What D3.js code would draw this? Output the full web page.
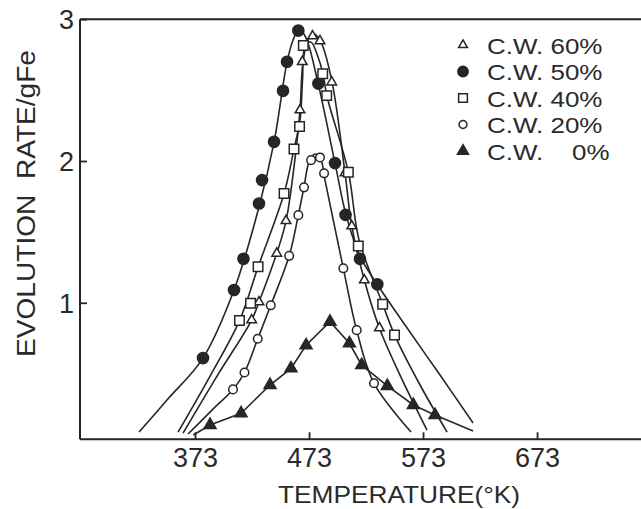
<!DOCTYPE html>
<html><head><meta charset="utf-8">
<script src="https://cdn.jsdelivr.net/npm/d3@7"></script>
<style>
html,body{margin:0;padding:0;background:#fff;}
svg{display:block;}
text{font-family:"Liberation Sans",Arial,sans-serif;fill:#2a2a2a;}
</style></head><body>
<svg id="chart" width="641" height="509"></svg>
<script>
// ---- axis ticks / labels ----
const xTicks = [373, 473, 573, 673];
const yTicks = [1, 2, 3];
const xDomain = [272.1, 764.2];
const yDomain = [0.037, 3];
const xTitle = "TEMPERATURE(°K)";
const yTitle = "EVOLUTION  RATE/gFe";
const legendLabels = ["C.W. 60%", "C.W. 50%", "C.W. 40%", "C.W. 20%", "C.W.    0%"];

// ---- measured points [T (K), rate] ----
const pts60 = [[422.7,0.878],[429.1,1.005],[444.7,1.348],[452.8,1.578],[465.1,2.359],[467.1,2.70],[476.1,2.881],[482.6,2.846],[492.9,2.556],[504.6,1.915],[510.5,1.541],[521.5,1.16],[534.7,0.822]];
const pts50 = [[380.0,0.61],[407.2,1.09],[415.5,1.31],[429.1,1.70],[431.8,1.865],[442.3,2.135],[450.2,2.495],[453.7,2.70],[463.6,2.92],[481.2,2.546],[495.8,1.985],[505.0,1.62],[517.7,1.31],[532.9,1.13]];
const pts40 = [[412.0,0.875],[421.7,0.996],[428.3,1.254],[451.1,1.77],[459.8,2.084],[464.7,2.243],[468.0,2.814],[485.0,2.616],[488.5,2.461],[507.5,1.92],[516.2,1.40],[537.6,0.989],[548.0,0.772]];
const pts20 = [[406.3,0.389],[416.4,0.508],[428.0,0.746],[439.4,0.982],[455.6,1.331],[463.6,1.618],[468.6,1.814],[474.8,2.006],[482.6,2.025],[486.2,1.913],[503.1,1.243],[514.8,0.807],[530.0,0.432]];
const pts0  = [[386.2,0.138],[413.4,0.22],[438.8,0.42],[457.2,0.537],[470.4,0.70],[491.4,0.866],[508.4,0.714],[519.2,0.56],[541.7,0.413],[564.5,0.279],[583.5,0.208]];

// ---- hand-fitted curves [T (K), rate] ----
const curve60 = [[362.5,0.081],[392.3,0.483],[422.7,0.878],[429.1,1.005],[444.7,1.35],[452.8,1.576],[461.6,2.077],[465.1,2.359],[467.7,2.697],[472.1,2.853],[477.4,2.895],[483.5,2.838],[493.2,2.556],[504.6,1.915],[510.5,1.541],[521.5,1.16],[534.7,0.822],[552.8,0.49],[576.5,0.102]];
const curve50 = [[323.9,0.088],[348.4,0.314],[380.0,0.61],[407.2,1.09],[429.1,1.675],[442.3,2.133],[453.7,2.697],[459.0,2.853],[464.2,2.93],[470.4,2.867],[480.9,2.549],[495.8,1.985],[505.5,1.618],[517.7,1.329],[532.6,1.132],[557.2,0.843],[587.9,0.49],[616.9,0.152]];
const curve40 = [[358.1,0.088],[386.2,0.483],[412.0,0.874],[428.3,1.252],[451.1,1.77],[459.8,2.084],[465.1,2.288],[467.3,2.571],[469.5,2.807],[474.8,2.838],[480.9,2.733],[485.3,2.613],[488.8,2.455],[507.5,1.922],[516.9,1.442],[537.6,0.991],[548.1,0.772],[570.4,0.42],[594.1,0.088]];
const curve20 = [[366.9,0.074],[387.9,0.243],[406.3,0.389],[416.4,0.508],[428.0,0.746],[439.4,0.982],[455.6,1.331],[463.6,1.618],[468.6,1.816],[473.0,1.992],[478.3,2.049],[483.5,2.006],[487.0,1.865],[503.1,1.243],[514.8,0.807],[530.0,0.432],[562.5,0.088]];
const curve0Start = [371.5,0.067];
const curve0End = [616.9,0.095];

// ---- build ----
const W = 641, H = 509;
const margin = {left: 80, right: 0, top: 19.2, bottom: 69.7};
const svg = d3.select("#chart");
const x = d3.scaleLinear().domain(xDomain).range([margin.left, W - margin.right]);
const y = d3.scaleLinear().domain(yDomain).range([H - margin.bottom, margin.top]);
const ink = "#262626";

// frame
const frame = svg.append("g").attr("stroke", ink).attr("stroke-width", 2).attr("fill", "none");
frame.append("line").attr("x1", x.range()[0]).attr("x2", x.range()[1]).attr("y1", y.range()[0]).attr("y2", y.range()[0]);
frame.append("line").attr("x1", x.range()[0]).attr("x2", x.range()[1]).attr("y1", y.range()[1]).attr("y2", y.range()[1]);
frame.append("line").attr("x1", x.range()[0]).attr("x2", x.range()[0]).attr("y1", y.range()[0]).attr("y2", y.range()[1]);

// x axis
const gx = svg.append("g").attr("transform", `translate(0,${y.range()[0]})`)
  .call(d3.axisBottom(x).tickValues(xTicks).tickSizeInner(-7).tickSizeOuter(0).tickFormat(d3.format("d")));
gx.select(".domain").remove();
gx.selectAll(".tick line").attr("stroke", ink).attr("stroke-width", 1.8);
gx.selectAll(".tick text").attr("y", 28).attr("dy", null)
  .style("font-family", '"Liberation Sans",Arial,sans-serif').style("font-size", "27px").attr("fill", ink);

// y axis
const gy = svg.append("g").attr("transform", `translate(${x.range()[0]},0)`)
  .call(d3.axisLeft(y).tickValues(yTicks).tickSizeInner(-7).tickSizeOuter(0).tickPadding(6).tickFormat(d3.format("d")));
gy.select(".domain").remove();
gy.selectAll(".tick line").attr("stroke", ink).attr("stroke-width", 1.8);
gy.selectAll(".tick text").attr("dy", "0.36em")
  .style("font-family", '"Liberation Sans",Arial,sans-serif').style("font-size", "27px").attr("fill", ink);

// titles
svg.append("text").attr("x", 399).attr("y", 503).attr("text-anchor", "middle")
  .attr("textLength", 242).attr("lengthAdjust", "spacingAndGlyphs")
  .style("font-size", "24px").text(xTitle);
svg.append("text").attr("transform", "translate(35,203.5) rotate(-90)").attr("text-anchor", "middle")
  .attr("textLength", 307).attr("lengthAdjust", "spacingAndGlyphs")
  .style("font-size", "26px").style("white-space", "pre").text(yTitle);

// curves
const line = d3.line().x(d => x(d[0])).y(d => y(d[1])).curve(d3.curveCatmullRom.alpha(0.5));
const lineLin = d3.line().x(d => x(d[0])).y(d => y(d[1]));
const curves = [curve60, curve50, curve40, curve20];
svg.append("g").selectAll("path").data(curves).join("path")
  .attr("d", d => line(d)).attr("fill", "none").attr("stroke", ink).attr("stroke-width", 1.6);
svg.append("path").attr("d", lineLin([curve0Start, ...pts0, curve0End]))
  .attr("fill", "none").attr("stroke", ink).attr("stroke-width", 1.6);

// markers
const styles = [
  {type: d3.symbolTriangle, size: 40, fill: "#fff"},
  {type: d3.symbolCircle, size: 98, fill: ink},
  {type: d3.symbolSquare, size: 90, fill: "#fff"},
  {type: d3.symbolCircle, size: 58, fill: "#fff"},
  {type: d3.symbolTriangle, size: 62, fill: ink}
];
const ptsAll = [pts60, pts50, pts40, pts20, pts0];
ptsAll.forEach((pts, i) => {
  const st = styles[i];
  svg.append("g").selectAll("path").data(pts).join("path")
    .attr("transform", d => `translate(${x(d[0])},${y(d[1])})`)
    .attr("d", d3.symbol().type(st.type).size(st.size))
    .attr("fill", st.fill).attr("stroke", ink).attr("stroke-width", 1.5);
});

// legend
const lg = svg.append("g");
legendLabels.forEach((lab, i) => {
  const cy = 45 + i * 26.5;
  const st = styles[i];
  lg.append("path").attr("transform", `translate(463,${cy})`)
    .attr("d", d3.symbol().type(st.type).size(st.size * 0.85))
    .attr("fill", st.fill).attr("stroke", ink).attr("stroke-width", 1.5);
  const t = lg.append("text").attr("x", 487).attr("y", cy + 8.5).style("font-size", "22px")
    .style("white-space", "pre").text(lab);
  const len = t.node().getComputedTextLength();
  t.attr("textLength", len * 1.18).attr("lengthAdjust", "spacingAndGlyphs");
});
</script>
</body></html>
